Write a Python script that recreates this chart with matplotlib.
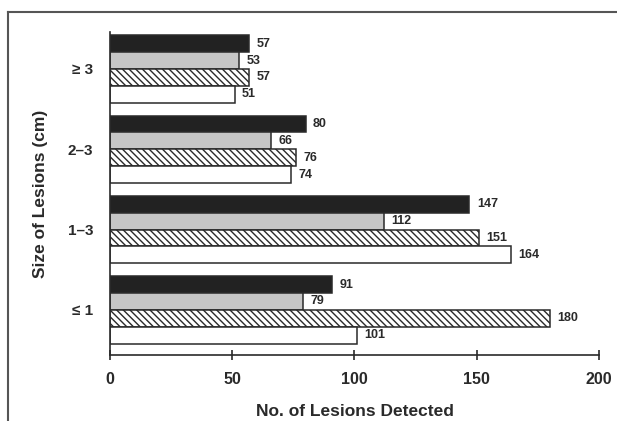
import numpy as np
import matplotlib
matplotlib.use("Agg")
import matplotlib.pyplot as plt
from matplotlib.lines import Line2D

plt.rcParams["font.family"] = ["Liberation Sans", "DejaVu Sans"]
plt.rcParams["font.weight"] = "bold"
plt.rcParams["hatch.linewidth"] = 1.0

# lesion size groups, top to bottom
sizes = ["\u2265 3", "2\u20133", "1\u20133", "\u2264 1"]
# four detection series, drawn top to bottom inside each group
series_a = [57, 80, 147, 91]   # solid dark
series_b = [53, 66, 112, 79]   # light grey
series_c = [57, 76, 151, 180]  # hatched
series_d = [51, 74, 164, 101]  # white

ink = "#2a2a2a"
fig = plt.figure(figsize=(6.17, 4.21), dpi=100)
ax = fig.add_axes([0.178, 0.157, 0.793, 0.767])

centers = np.arange(len(sizes))[::-1].astype(float)
h = 0.21
styles = [
    dict(color="#222222", edgecolor=ink),
    dict(color="#c6c6c6", edgecolor=ink),
    dict(color="white", edgecolor=ink, hatch="\\" * 5),
    dict(color="white", edgecolor=ink),
]
for i, (vals, st) in enumerate(zip([series_a, series_b, series_c, series_d], styles)):
    y = centers + (1.5 - i) * h
    ax.barh(y, vals, height=h, linewidth=1.1, **st)
    for yy, v in zip(y, vals):
        ax.text(v + 3, yy, str(v), va="center", ha="left", fontsize=9,
                fontweight="bold", color=ink)

ax.set_xlim(0, 200)
ax.set_ylim(-0.56, 3.46)
ax.set_xticks([0, 50, 100, 150, 200])
ax.set_yticks(centers)
ax.set_yticklabels(sizes)
ax.tick_params(axis="y", length=0, pad=12, labelsize=11, colors=ink)
ax.tick_params(axis="x", length=7, width=1.2, direction="inout", pad=9, labelsize=11.5, colors=ink)
for s in ["top", "right"]:
    ax.spines[s].set_visible(False)
for s in ["left", "bottom"]:
    ax.spines[s].set_color(ink)
    ax.spines[s].set_linewidth(1.2)
ax.set_xlabel("No. of Lesions Detected", fontsize=12.5, fontweight="bold", color=ink, labelpad=12)
ax.set_ylabel("Size of Lesions (cm)", fontsize=12.5, fontweight="bold", color=ink, labelpad=14)

# outer frame of the original panel (cropped at right and bottom)
fig.add_artist(Line2D([0.013, 1.0], [0.971, 0.971], transform=fig.transFigure, color="#555555", lw=1.5))
fig.add_artist(Line2D([0.013, 0.013], [0.0, 0.971], transform=fig.transFigure, color="#555555", lw=1.5))

fig.savefig("out.png", dpi=100)
